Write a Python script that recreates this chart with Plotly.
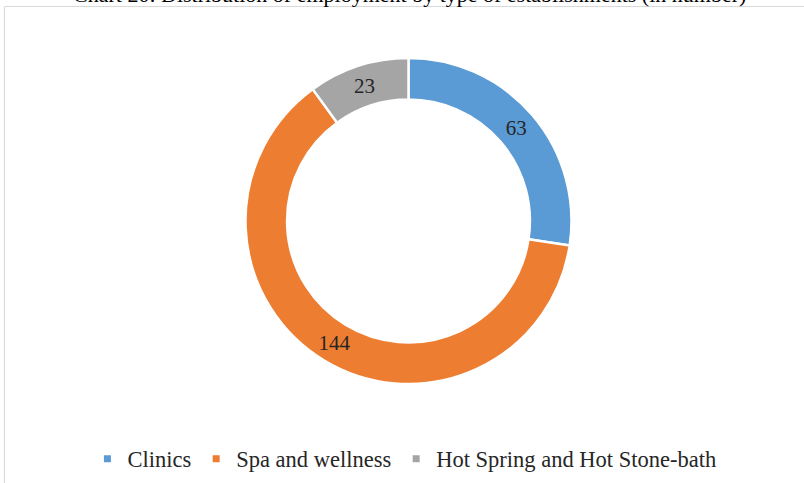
import plotly.graph_objects as go

categories = ["Clinics", "Spa and wellness", "Hot Spring and Hot Stone-bath"]
values = [63, 144, 23]
colors = ["#5B9BD5", "#ED7D31", "#A5A5A5"]
title_text = "Chart 20: Distribution of employment by type of establishments (in number)"

W, H = 804, 483
FONT = "Liberation Serif, Times New Roman, serif"

fig = go.Figure()
fig.add_trace(go.Pie(
    labels=categories, values=values, sort=False, direction="clockwise", rotation=0,
    hole=0.745,
    marker=dict(colors=colors, line=dict(color="white", width=2.5)),
    textinfo="value", textposition="inside", insidetextorientation="auto",
    textfont=dict(family=FONT, size=21, color="#262626"),
    showlegend=False,
    domain=dict(x=[245.5 / W, 571.5 / W], y=[1 - 384 / H, 1 - 58 / H]),
))
# legend entries
for name, c in zip(categories, colors):
    fig.add_trace(go.Scatter(x=[None], y=[None], mode="markers", name=name,
                             marker=dict(symbol="square", size=7, color=c)))

fig.update_layout(
    width=W, height=H,
    margin=dict(l=0, r=0, t=0, b=0),
    paper_bgcolor="white", plot_bgcolor="white",
    xaxis=dict(visible=False), yaxis=dict(visible=False),
    showlegend=True,
    legend=dict(orientation="h", x=0.503, xanchor="center", y=1 - 459 / H, yanchor="middle",
                font=dict(family=FONT, size=22.5, color="#262626"), itemwidth=30,
                bgcolor="rgba(0,0,0,0)"),
    shapes=[
        dict(type="line", xref="paper", yref="paper", x0=4.5 / W, x1=1, y0=1 - 6.5 / H, y1=1 - 6.5 / H,
             line=dict(color="#d9d9d9", width=1.2)),
        dict(type="line", xref="paper", yref="paper", x0=4.5 / W, x1=4.5 / W, y0=0, y1=1 - 6.5 / H,
             line=dict(color="#d9d9d9", width=1.2)),
    ],
    annotations=[dict(text=title_text, xref="paper", yref="paper", x=748 / W, xanchor="right",
                      y=1 - 8.7 / H, yanchor="bottom", showarrow=False,
                      font=dict(family=FONT, size=22, color="#000000"))],
)
fig.write_html("out.html", config={"displayModeBar": False},
               post_script="document.body.style.margin='0px';document.body.style.overflow='hidden';")
